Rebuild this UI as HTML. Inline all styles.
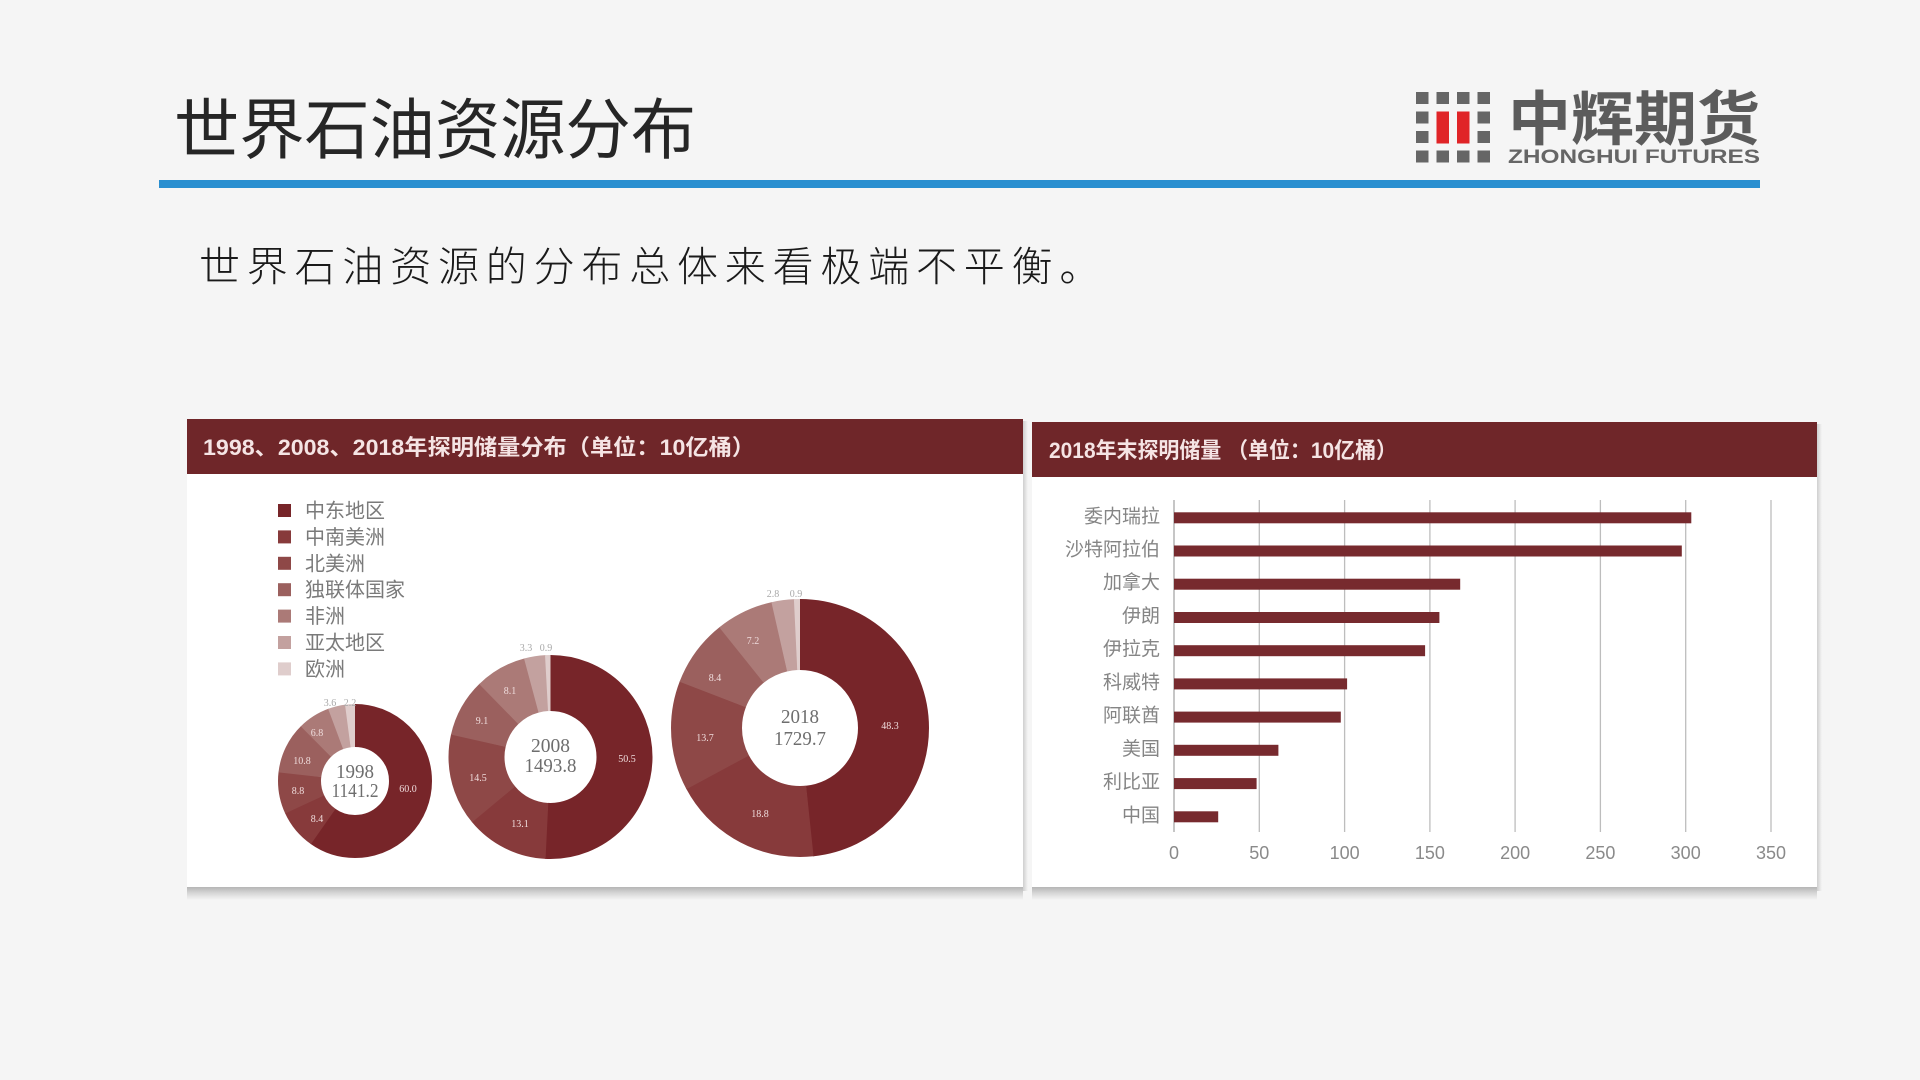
<!DOCTYPE html>
<html><head><meta charset="utf-8"><style>
html,body{margin:0;padding:0;background:#f5f5f5;}
svg{display:block;}
.cjk{font-family:"Liberation Sans","Noto Sans CJK SC",sans-serif;}
.ser{font-family:"Liberation Serif","Noto Serif CJK SC",serif;}
</style></head><body>
<svg width="1920" height="1080" viewBox="0 0 1920 1080" xmlns="http://www.w3.org/2000/svg">
<defs>
<linearGradient id="sh" x1="0" y1="0" x2="0" y2="1">
<stop offset="0" stop-color="#b5b5b5"/><stop offset="0.5" stop-color="#d8d8d8"/><stop offset="1" stop-color="#f5f5f5"/>
</linearGradient>
<linearGradient id="shr" x1="0" y1="0" x2="1" y2="0">
<stop offset="0" stop-color="#cfcfcf"/><stop offset="1" stop-color="#f5f5f5"/>
</linearGradient>
</defs>
<rect width="1920" height="1080" fill="#f5f5f5"/>

<!-- Title -->
<text x="174" y="153" class="cjk" font-size="66" fill="#262626" textLength="522" lengthAdjust="spacingAndGlyphs">世界石油资源分布</text>

<!-- Logo -->
<g fill="#666666">
<rect x="1416" y="92" width="12.5" height="12"/><rect x="1436.5" y="92" width="12.5" height="12"/><rect x="1457" y="92" width="12.5" height="12"/><rect x="1477.5" y="92" width="12.5" height="12"/>
<rect x="1416" y="111.5" width="12.5" height="12"/><rect x="1477.5" y="111.5" width="12.5" height="12"/>
<rect x="1416" y="131" width="12.5" height="12"/><rect x="1477.5" y="131" width="12.5" height="12"/>
<rect x="1416" y="150.5" width="12.5" height="12"/><rect x="1436.5" y="150.5" width="12.5" height="12"/><rect x="1457" y="150.5" width="12.5" height="12"/><rect x="1477.5" y="150.5" width="12.5" height="12"/>
</g>
<rect x="1436.5" y="111.5" width="12.5" height="32" fill="#e02427"/>
<rect x="1457" y="111.5" width="12.5" height="32" fill="#e02427"/>
<text x="1508" y="140" class="cjk" font-size="59" font-weight="bold" fill="#5c5c5c" textLength="252" lengthAdjust="spacingAndGlyphs">中辉期货</text>
<text x="1508" y="163" font-family="Liberation Sans, sans-serif" font-size="19.5" font-weight="bold" fill="#666666" textLength="252" lengthAdjust="spacingAndGlyphs">ZHONGHUI FUTURES</text>

<!-- Blue rule -->
<rect x="159" y="180" width="1601" height="8" fill="#2a8fd0"/>

<!-- Subtitle -->
<text x="199" y="281" class="cjk" font-size="41" font-weight="300" fill="#1a1a1a" letter-spacing="6.8">世界石油资源的分布总体来看极端不平衡。</text>

<!-- Left panel -->
<rect x="187" y="887" width="836" height="13" fill="url(#sh)"/>
<rect x="1023" y="421" width="5" height="470" fill="url(#shr)"/>
<rect x="187" y="419" width="836" height="468" fill="#ffffff"/>
<rect x="187" y="419" width="836" height="55" fill="#6f2629"/>
<text x="203" y="455" class="cjk" font-size="22" font-weight="bold" fill="#f5e4e4" textLength="552" lengthAdjust="spacingAndGlyphs">1998、2008、2018年探明储量分布（单位：10亿桶）</text>

<!-- Legend -->
<g class="cjk" font-size="20" fill="#7a7a7a">
<rect x="278" y="504" width="13" height="13" fill="#772529"/><text x="305" y="517.5">中东地区</text>
<rect x="278" y="530.4" width="13" height="13" fill="#873a3b"/><text x="305" y="543.9">中南美洲</text>
<rect x="278" y="556.8" width="13" height="13" fill="#8e4847"/><text x="305" y="570.3">北美洲</text>
<rect x="278" y="583.2" width="13" height="13" fill="#9b605e"/><text x="305" y="596.7">独联体国家</text>
<rect x="278" y="609.6" width="13" height="13" fill="#ab7a77"/><text x="305" y="623.1">非洲</text>
<rect x="278" y="636" width="13" height="13" fill="#c3a19f"/><text x="305" y="649.5">亚太地区</text>
<rect x="278" y="662.4" width="13" height="13" fill="#dfcdcc"/><text x="305" y="675.9">欧洲</text>
</g>

<!-- Donut 1998 -->
<g transform="rotate(-90 355 781)" fill="none" stroke-width="43">
<circle cx="355" cy="781" r="55.5" stroke="#772529" stroke-dasharray="208.5 400" stroke-dashoffset="0"/>
<circle cx="355" cy="781" r="55.5" stroke="#873a3b" stroke-dasharray="29.6 400" stroke-dashoffset="-207.98"/>
<circle cx="355" cy="781" r="55.5" stroke="#8e4847" stroke-dasharray="31 400" stroke-dashoffset="-237.1"/>
<circle cx="355" cy="781" r="55.5" stroke="#9b605e" stroke-dasharray="37.9 400" stroke-dashoffset="-267.6"/>
<circle cx="355" cy="781" r="55.5" stroke="#ab7a77" stroke-dasharray="24 400" stroke-dashoffset="-305.04"/>
<circle cx="355" cy="781" r="55.5" stroke="#c3a19f" stroke-dasharray="12.9 400" stroke-dashoffset="-328.61"/>
<circle cx="355" cy="781" r="55.5" stroke="#dfcdcc" stroke-dasharray="7.63 400" stroke-dashoffset="-341.09"/>
</g>
<!-- Donut 2008 -->
<g transform="rotate(-90 550.5 757)" fill="none" stroke-width="56">
<circle cx="550.5" cy="757" r="74" stroke="#772529" stroke-dasharray="236.5 500" stroke-dashoffset="0"/>
<circle cx="550.5" cy="757" r="74" stroke="#873a3b" stroke-dasharray="61.7 500" stroke-dashoffset="-235.99"/>
<circle cx="550.5" cy="757" r="74" stroke="#8e4847" stroke-dasharray="68.2 500" stroke-dashoffset="-297.21"/>
<circle cx="550.5" cy="757" r="74" stroke="#9b605e" stroke-dasharray="43 500" stroke-dashoffset="-364.97"/>
<circle cx="550.5" cy="757" r="74" stroke="#ab7a77" stroke-dasharray="38.3 500" stroke-dashoffset="-407.49"/>
<circle cx="550.5" cy="757" r="74" stroke="#c3a19f" stroke-dasharray="15.9 500" stroke-dashoffset="-445.34"/>
<circle cx="550.5" cy="757" r="74" stroke="#dfcdcc" stroke-dasharray="4.21 500" stroke-dashoffset="-460.76"/>
</g>
<!-- Donut 2018 -->
<g transform="rotate(-90 800 728)" fill="none" stroke-width="71">
<circle cx="800" cy="728" r="93.5" stroke="#772529" stroke-dasharray="284.2 700" stroke-dashoffset="0"/>
<circle cx="800" cy="728" r="93.5" stroke="#873a3b" stroke-dasharray="110.9 700" stroke-dashoffset="-283.75"/>
<circle cx="800" cy="728" r="93.5" stroke="#8e4847" stroke-dasharray="80.9 700" stroke-dashoffset="-394.2"/>
<circle cx="800" cy="728" r="93.5" stroke="#9b605e" stroke-dasharray="49.8 700" stroke-dashoffset="-474.68"/>
<circle cx="800" cy="728" r="93.5" stroke="#ab7a77" stroke-dasharray="42.7 700" stroke-dashoffset="-524.03"/>
<circle cx="800" cy="728" r="93.5" stroke="#c3a19f" stroke-dasharray="16.9 700" stroke-dashoffset="-566.33"/>
<circle cx="800" cy="728" r="93.5" stroke="#dfcdcc" stroke-dasharray="4.7 700" stroke-dashoffset="-582.78"/>
</g>

<!-- Donut labels -->
<g class="ser" font-size="10" fill="#efdcdc" text-anchor="middle">
<text x="408" y="792">60.0</text>
<text x="317" y="822">8.4</text>
<text x="298" y="794">8.8</text>
<text x="302" y="764">10.8</text>
<text x="317" y="736">6.8</text>
<text x="627" y="762">50.5</text>
<text x="520" y="827">13.1</text>
<text x="478" y="781">14.5</text>
<text x="482" y="724">9.1</text>
<text x="510" y="694">8.1</text>
<text x="890" y="729">48.3</text>
<text x="760" y="817">18.8</text>
<text x="705" y="741">13.7</text>
<text x="715" y="681">8.4</text>
<text x="753" y="644">7.2</text>
</g>
<g class="ser" font-size="10" fill="#a8a8a8" text-anchor="middle">
<text x="330" y="706">3.6</text><text x="350" y="706">2.2</text>
<text x="526" y="651">3.3</text><text x="546" y="651">0.9</text>
<text x="773" y="597">2.8</text><text x="796" y="597">0.9</text>
</g>
<g class="ser" font-size="20" fill="#6e6e6e" text-anchor="middle">
<text x="355" y="778" textLength="38" lengthAdjust="spacingAndGlyphs">1998</text>
<text x="355" y="797" textLength="47" lengthAdjust="spacingAndGlyphs">1141.2</text>
<text x="550.5" y="752" textLength="39" lengthAdjust="spacingAndGlyphs">2008</text>
<text x="550.5" y="772" textLength="52" lengthAdjust="spacingAndGlyphs">1493.8</text>
<text x="800" y="723" textLength="38" lengthAdjust="spacingAndGlyphs">2018</text>
<text x="800" y="745" textLength="52" lengthAdjust="spacingAndGlyphs">1729.7</text>
</g>

<!-- Right panel -->
<rect x="1032" y="887" width="785" height="13" fill="url(#sh)"/>
<rect x="1817" y="424" width="5" height="467" fill="url(#shr)"/>
<rect x="1032" y="422" width="785" height="465" fill="#ffffff"/>
<rect x="1032" y="422" width="785" height="55" fill="#6f2629"/>
<text x="1049" y="458" class="cjk" font-size="22" font-weight="bold" fill="#f5e4e4" textLength="348" lengthAdjust="spacingAndGlyphs">2018年末探明储量 （单位：10亿桶）</text>

<!-- Gridlines -->
<g stroke="#bdbdbd" stroke-width="1.3">
<line x1="1174" y1="500" x2="1174" y2="832" stroke="#a8a8a8"/>
<line x1="1259.3" y1="500" x2="1259.3" y2="832"/>
<line x1="1344.6" y1="500" x2="1344.6" y2="832"/>
<line x1="1429.9" y1="500" x2="1429.9" y2="832"/>
<line x1="1515.1" y1="500" x2="1515.1" y2="832"/>
<line x1="1600.4" y1="500" x2="1600.4" y2="832"/>
<line x1="1685.7" y1="500" x2="1685.7" y2="832"/>
<line x1="1771" y1="500" x2="1771" y2="832"/>
</g>
<g font-family="Liberation Sans, sans-serif" font-size="18" fill="#8a8a8a" text-anchor="middle">
<text x="1174" y="859">0</text>
<text x="1259.3" y="859">50</text>
<text x="1344.6" y="859">100</text>
<text x="1429.9" y="859">150</text>
<text x="1515.1" y="859">200</text>
<text x="1600.4" y="859">250</text>
<text x="1685.7" y="859">300</text>
<text x="1771" y="859">350</text>
</g>
<!-- Bars -->
<g fill="#772a2e">
<rect x="1174" y="512.3" width="517.3" height="11"/>
<rect x="1174" y="545.5" width="507.8" height="11"/>
<rect x="1174" y="578.7" width="286.2" height="11"/>
<rect x="1174" y="612" width="265.4" height="11"/>
<rect x="1174" y="645.2" width="251.1" height="11"/>
<rect x="1174" y="678.4" width="173.1" height="11"/>
<rect x="1174" y="711.6" width="166.8" height="11"/>
<rect x="1174" y="744.8" width="104.4" height="11"/>
<rect x="1174" y="778.1" width="82.6" height="11"/>
<rect x="1174" y="811.3" width="44.2" height="11"/>
</g>
<g class="cjk" font-size="19" fill="#858585" text-anchor="end">
<text x="1160" y="522.3">委内瑞拉</text>
<text x="1160" y="555.5">沙特阿拉伯</text>
<text x="1160" y="588.7">加拿大</text>
<text x="1160" y="622">伊朗</text>
<text x="1160" y="655.2">伊拉克</text>
<text x="1160" y="688.4">科威特</text>
<text x="1160" y="721.6">阿联酋</text>
<text x="1160" y="754.8">美国</text>
<text x="1160" y="788.1">利比亚</text>
<text x="1160" y="821.3">中国</text>
</g>
</svg>
</body></html>
